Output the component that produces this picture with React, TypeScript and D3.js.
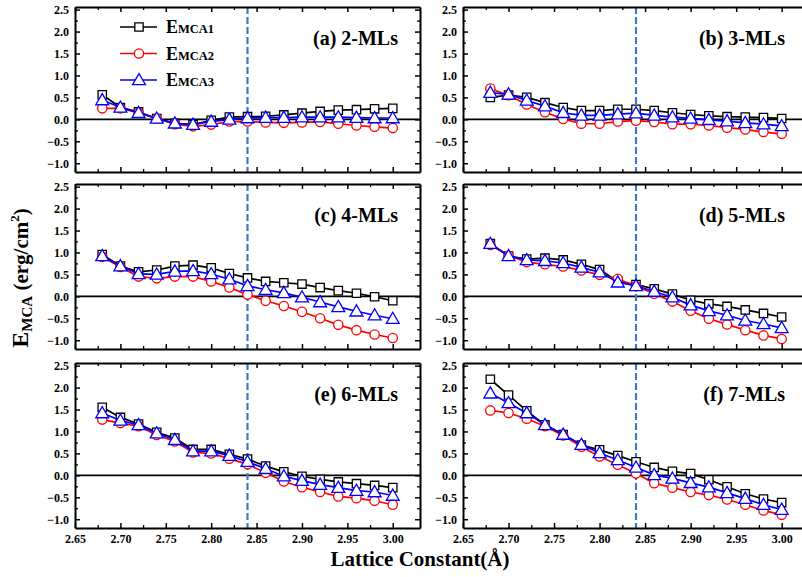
import { useEffect, useRef } from "react";
import * as d3 from "d3";

// lattice constants (Å)
const latticeX = [2.68, 2.7, 2.72, 2.74, 2.76, 2.78, 2.8, 2.82, 2.84, 2.86, 2.88, 2.9, 2.92, 2.94, 2.96, 2.98, 3.0];

// E_MCA values (erg/cm^2)
const ml2_E1 = [0.56, 0.27, 0.17, 0.02, -0.09, -0.12, -0.02, 0.05, 0.06, 0.07, 0.1, 0.14, 0.18, 0.21, 0.22, 0.24, 0.25];
const ml2_E2 = [0.25, 0.25, 0.15, 0.02, -0.11, -0.16, -0.12, -0.05, -0.05, -0.07, -0.08, -0.07, -0.06, -0.1, -0.14, -0.17, -0.2];
const ml2_E3 = [0.44, 0.27, 0.15, 0.02, -0.09, -0.12, -0.05, 0.0, 0.03, 0.04, 0.04, 0.05, 0.05, 0.05, 0.04, 0.03, 0.03];

const ml3_E1 = [0.5, 0.55, 0.5, 0.38, 0.27, 0.2, 0.2, 0.23, 0.23, 0.2, 0.15, 0.11, 0.08, 0.06, 0.05, 0.04, 0.02];
const ml3_E2 = [0.7, 0.55, 0.34, 0.16, 0.01, -0.1, -0.1, -0.05, -0.03, -0.06, -0.11, -0.11, -0.14, -0.19, -0.23, -0.29, -0.33];
const ml3_E3 = [0.61, 0.57, 0.43, 0.3, 0.15, 0.09, 0.09, 0.12, 0.14, 0.09, 0.05, 0.02, -0.01, -0.04, -0.08, -0.11, -0.15];

const ml4_E1 = [0.95, 0.69, 0.56, 0.6, 0.69, 0.71, 0.65, 0.52, 0.42, 0.34, 0.31, 0.28, 0.2, 0.13, 0.07, -0.01, -0.1];
const ml4_E2 = [0.9, 0.67, 0.45, 0.41, 0.45, 0.45, 0.34, 0.2, 0.04, -0.1, -0.22, -0.35, -0.5, -0.65, -0.77, -0.87, -0.95];
const ml4_E3 = [0.92, 0.69, 0.51, 0.5, 0.57, 0.58, 0.51, 0.39, 0.24, 0.15, 0.08, -0.02, -0.13, -0.24, -0.34, -0.43, -0.51];

const ml5_E1 = [1.2, 0.92, 0.85, 0.87, 0.83, 0.73, 0.61, 0.34, 0.27, 0.17, 0.05, -0.09, -0.17, -0.23, -0.31, -0.39, -0.47];
const ml5_E2 = [1.17, 0.93, 0.78, 0.73, 0.68, 0.59, 0.49, 0.4, 0.23, 0.06, -0.12, -0.33, -0.51, -0.64, -0.77, -0.89, -0.97];
const ml5_E3 = [1.2, 0.92, 0.83, 0.81, 0.76, 0.66, 0.55, 0.32, 0.24, 0.11, -0.02, -0.2, -0.33, -0.43, -0.55, -0.63, -0.72];

const ml6_E1 = [1.55, 1.32, 1.17, 0.98, 0.85, 0.59, 0.59, 0.48, 0.37, 0.21, 0.08, -0.02, -0.09, -0.15, -0.19, -0.23, -0.28];
const ml6_E2 = [1.27, 1.19, 1.12, 0.92, 0.77, 0.52, 0.5, 0.38, 0.25, 0.06, -0.14, -0.27, -0.38, -0.48, -0.52, -0.58, -0.67];
const ml6_E3 = [1.42, 1.25, 1.15, 0.96, 0.81, 0.55, 0.55, 0.45, 0.31, 0.15, -0.02, -0.12, -0.21, -0.28, -0.35, -0.38, -0.46];

const ml7_E1 = [2.19, 1.83, 1.47, 1.15, 0.93, 0.69, 0.58, 0.45, 0.31, 0.18, 0.09, 0.04, -0.1, -0.26, -0.42, -0.54, -0.62];
const ml7_E2 = [1.48, 1.42, 1.29, 1.12, 0.91, 0.65, 0.43, 0.24, 0.04, -0.18, -0.28, -0.38, -0.45, -0.55, -0.67, -0.8, -0.9];
const ml7_E3 = [1.87, 1.65, 1.42, 1.15, 0.93, 0.7, 0.51, 0.35, 0.18, 0.01, -0.07, -0.17, -0.27, -0.4, -0.53, -0.67, -0.78];

const panelLabels = ["(a) 2-MLs", "(b) 3-MLs", "(c) 4-MLs", "(d) 5-MLs", "(e) 6-MLs", "(f) 7-MLs"];
const panelSeries = [
  [ml2_E1, ml2_E2, ml2_E3],
  [ml3_E1, ml3_E2, ml3_E3],
  [ml4_E1, ml4_E2, ml4_E3],
  [ml5_E1, ml5_E2, ml5_E3],
  [ml6_E1, ml6_E2, ml6_E3],
  [ml7_E1, ml7_E2, ml7_E3],
];
const seriesNames = ["MCA1", "MCA2", "MCA3"];
const seriesColors = ["#000000", "#ff0000", "#0000ff"];
const seriesShapes = ["square", "circle", "triangle"];

const xMajor = [2.65, 2.7, 2.75, 2.8, 2.85, 2.9, 2.95, 3.0];
const xMinor = [2.675, 2.725, 2.775, 2.825, 2.875, 2.925, 2.975];
const yMajor = [-1.0, -0.5, 0.0, 0.5, 1.0, 1.5, 2.0, 2.5];
const yMinor = [-0.75, -0.25, 0.25, 0.75, 1.25, 1.75, 2.25];
const refLattice = 2.84;

const COLS = [
  { left: 75, right: 420 },
  { left: 463, right: 809 },
];
const ROWS = [
  { top: 7, bottom: 172 },
  { top: 184, bottom: 349 },
  { top: 363, bottom: 528 },
];
const FONT = "Liberation Serif, Times New Roman, serif";

const symbolOf = (shape: string) =>
  shape === "square" ? d3.symbolSquare : shape === "circle" ? d3.symbolCircle : d3.symbolTriangle;
const sizeOf = (shape: string) => (shape === "triangle" ? 72 : shape === "square" ? 70 : 68);

const App = () => {
  const svgRef = useRef<SVGSVGElement | null>(null);

  useEffect(() => {
    const svg = d3.select(svgRef.current);
    svg.selectAll("*").remove();

    panelSeries.forEach((series, p) => {
      const col = COLS[p % 2];
      const row = ROWS[Math.floor(p / 2)];
      const isBottom = Math.floor(p / 2) === 2;
      const x = d3.scaleLinear().domain([2.65, 3.03]).range([col.left, col.right]);
      const y = d3.scaleLinear().domain([-1.2, 2.56]).range([row.bottom, row.top]);
      const g = svg.append("g");

      // zero line
      g.append("line")
        .attr("x1", col.left).attr("x2", col.right)
        .attr("y1", y(0)).attr("y2", y(0))
        .attr("stroke", "#000").attr("stroke-width", 1.6);

      // reference dashed line
      g.append("line")
        .attr("x1", x(refLattice)).attr("x2", x(refLattice))
        .attr("y1", row.top).attr("y2", row.bottom)
        .attr("stroke", "#3d7cc4").attr("stroke-width", 2.2)
        .attr("stroke-dasharray", "7,3");

      const axes = [
        { gen: d3.axisBottom(x), pos: `translate(0,${row.bottom})`, vals: xMajor, minor: xMinor, label: isBottom, fmt: d3.format(".2f") },
        { gen: d3.axisTop(x), pos: `translate(0,${row.top})`, vals: xMajor, minor: xMinor, label: false, fmt: d3.format(".2f") },
        { gen: d3.axisLeft(y), pos: `translate(${col.left},0)`, vals: yMajor, minor: yMinor, label: true, fmt: d3.format(".1f") },
        { gen: d3.axisRight(y), pos: `translate(${col.right},0)`, vals: yMajor, minor: yMinor, label: false, fmt: d3.format(".1f") },
      ];
      axes.forEach((a) => {
        const ag = g.append("g").attr("transform", a.pos)
          .call(a.gen.tickValues(a.vals).tickSizeInner(-5).tickSizeOuter(0).tickPadding(6)
            .tickFormat(a.label ? (a.fmt as any) : () => ""));
        ag.attr("font-family", null).attr("font-size", null);
        ag.select(".domain").attr("stroke-width", 2);
        ag.selectAll(".tick line").attr("stroke-width", 1.5);
        ag.selectAll("text")
          .style("font-family", FONT).style("font-weight", "bold")
          .style("font-size", "12px").attr("fill", "#000");
        const mg = g.append("g").attr("transform", a.pos)
          .call(a.gen.tickValues(a.minor).tickSizeInner(-3).tickSizeOuter(0).tickFormat(() => ""));
        mg.select(".domain").remove();
        mg.selectAll(".tick line").attr("stroke-width", 1.3);
      });

      const line = d3.line<number>()
        .x((_, i) => x(latticeX[i]))
        .y((d) => y(d));

      series.forEach((vals, s) => {
        const color = seriesColors[s];
        const shape = seriesShapes[s];
        g.append("path")
          .attr("d", line(vals))
          .attr("fill", "none")
          .attr("stroke", color)
          .attr("stroke-width", 1.7);
        g.selectAll(null)
          .data(vals)
          .join("path")
          .attr("d", d3.symbol(symbolOf(shape), sizeOf(shape))())
          .attr("transform", (d, i) => `translate(${x(latticeX[i])},${y(d) + (shape === "triangle" ? 1 : 0)})`)
          .attr("fill", "#fff")
          .attr("stroke", color)
          .attr("stroke-width", 1.3);
      });

      g.append("text")
        .attr("x", p % 2 === 0 ? 398 : 785)
        .attr("y", row.top + 38)
        .attr("text-anchor", "end")
        .style("font-family", FONT).style("font-weight", "bold")
        .style("font-size", "20px")
        .text(panelLabels[p]);

      // legend in panel (a)
      if (p === 0) {
        seriesNames.forEach((name, s) => {
          const ly = 27 + s * 26.5;
          const color = seriesColors[s];
          const shape = seriesShapes[s];
          g.append("line")
            .attr("x1", 120).attr("x2", 157).attr("y1", ly).attr("y2", ly)
            .attr("stroke", color).attr("stroke-width", 1.7);
          g.append("path")
            .attr("d", d3.symbol(symbolOf(shape), sizeOf(shape))())
            .attr("transform", `translate(139,${ly + (shape === "triangle" ? 1 : 0)})`)
            .attr("fill", "#fff").attr("stroke", color).attr("stroke-width", 1.3);
          const t = g.append("text")
            .attr("x", 166).attr("y", ly + 6)
            .style("font-family", FONT).style("font-weight", "bold").attr("fill", "#000");
          t.append("tspan").style("font-size", "18px").text("E");
          t.append("tspan").style("font-size", "12.5px").text(name);
        });
      }
    });

    // axis titles
    svg.append("text")
      .attr("x", 420).attr("y", 566)
      .attr("text-anchor", "middle")
      .style("font-family", FONT).style("font-weight", "bold").style("font-size", "21px")
      .text("Lattice Constant(Å)");

    const yt = svg.append("text")
      .attr("transform", "translate(28,278) rotate(-90)")
      .attr("text-anchor", "middle")
      .style("font-family", FONT).style("font-weight", "bold");
    yt.append("tspan").style("font-size", "24px").text("E");
    yt.append("tspan").style("font-size", "15px").attr("dy", 4).text("MCA");
    yt.append("tspan").style("font-size", "21px").attr("dy", -4).text(" (erg/cm");
    yt.append("tspan").style("font-size", "13px").attr("dy", -9).text("2");
    yt.append("tspan").style("font-size", "21px").attr("dy", 9).text(")");
  }, []);

  return (
    <svg
      ref={svgRef}
      width={802}
      height={577}
      style={{ position: "absolute", left: 0, top: 0, background: "#fff" }}
    />
  );
};

export default App;
